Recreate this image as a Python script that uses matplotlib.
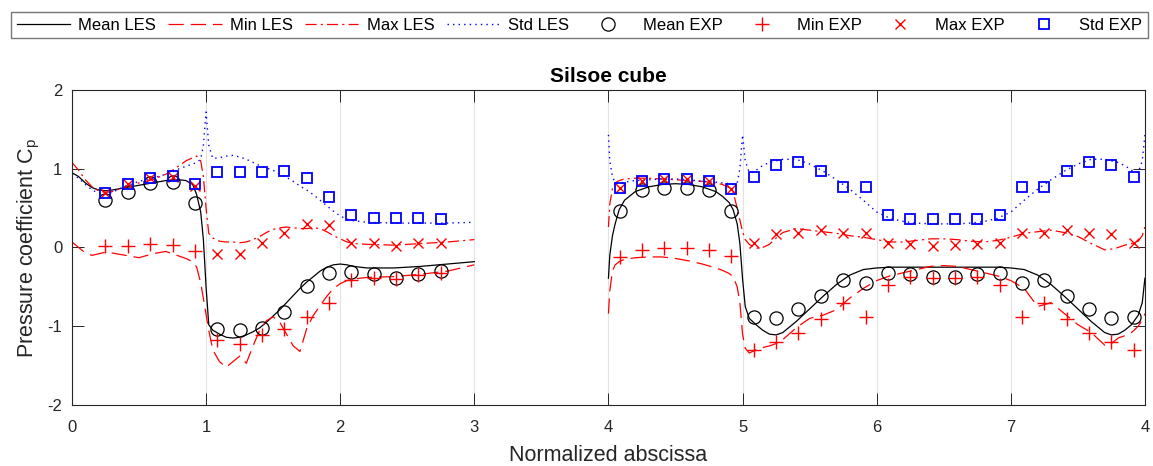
import numpy as np
import matplotlib
matplotlib.use('Agg')
import matplotlib.pyplot as plt

plt.rcParams['font.family'] = ['Liberation Sans', 'DejaVu Sans']
plt.rcParams['mathtext.fontset'] = 'custom'
plt.rcParams['mathtext.rm'] = 'Liberation Sans'
plt.rcParams['lines.scale_dashes'] = False
plt.rcParams['axes.unicode_minus'] = False

# LES profiles, first segment (faces 1-3)
les_x_left = [0.00, 0.05, 0.10, 0.15, 0.20, 0.25, 0.30, 0.40, 0.50, 0.60, 0.70, 0.75,
              0.80, 0.85, 0.90, 0.93, 0.96, 0.98, 1.00, 1.02, 1.05, 1.10, 1.15, 1.20,
              1.25, 1.30, 1.35, 1.40, 1.45, 1.50, 1.55, 1.60, 1.65, 1.70, 1.75, 1.80,
              1.85, 1.90, 1.95, 2.00, 2.05, 2.10, 2.20, 2.40, 2.60, 2.80, 3.00]
mean_les_left = [0.95, 0.90, 0.82, 0.76, 0.73, 0.72, 0.73, 0.76, 0.79, 0.82, 0.85, 0.86,
                 0.86, 0.85, 0.80, 0.67, 0.45, 0.10, -0.50, -0.98, -1.05, -1.10, -1.14, -1.15,
                 -1.14, -1.11, -1.07, -1.02, -0.95, -0.87, -0.79, -0.70, -0.61, -0.52, -0.44, -0.37,
                 -0.30, -0.25, -0.22, -0.21, -0.22, -0.24, -0.26, -0.26, -0.24, -0.21, -0.18]
min_les_left = [0.07, 0.00, -0.07, -0.10, -0.08, -0.06, -0.07, -0.10, -0.13, -0.08, -0.05, -0.08,
                -0.11, -0.14, -0.18, -0.25, -0.45, -0.65, -0.85, -1.05, -1.30, -1.45, -1.52, -1.45,
                -1.38, -1.47, -1.25, -1.05, -0.93, -0.88, -0.95, -1.10, -1.25, -1.32, -1.03, -0.86,
                -0.74, -0.62, -0.52, -0.46, -0.42, -0.40, -0.38, -0.37, -0.34, -0.30, -0.22]
max_les_left = [1.08, 0.98, 0.86, 0.77, 0.72, 0.70, 0.71, 0.77, 0.82, 0.86, 0.93, 0.98,
                1.04, 1.10, 1.14, 1.16, 1.10, 0.90, 0.50, 0.18, 0.12, 0.08, 0.07, 0.07,
                0.06, 0.07, 0.10, 0.14, 0.19, 0.23, 0.25, 0.26, 0.25, 0.24, 0.24, 0.25,
                0.24, 0.20, 0.15, 0.11, 0.07, 0.05, 0.04, 0.03, 0.05, 0.07, 0.10]
std_les_left = [0.93, 0.88, 0.80, 0.73, 0.69, 0.68, 0.70, 0.78, 0.84, 0.88, 0.93, 0.96,
                1.00, 1.03, 1.06, 1.08, 1.12, 1.30, 1.72, 1.30, 1.13, 1.14, 1.16, 1.17,
                1.15, 1.12, 1.08, 1.04, 1.01, 0.98, 0.93, 0.89, 0.84, 0.78, 0.73, 0.67,
                0.60, 0.53, 0.46, 0.40, 0.36, 0.34, 0.32, 0.31, 0.31, 0.31, 0.32]

# LES profiles, second segment (faces 4-7)
les_x_right = [4.00, 4.01, 4.03, 4.05, 4.08, 4.12, 4.20, 4.30, 4.40, 4.50, 4.60, 4.70,
               4.80, 4.85, 4.90, 4.93, 4.96, 4.98, 5.00, 5.02, 5.05, 5.10, 5.15, 5.20,
               5.25, 5.30, 5.40, 5.50, 5.60, 5.70, 5.80, 5.90, 6.00, 6.10, 6.20, 6.30,
               6.40, 6.50, 6.60, 6.70, 6.80, 6.90, 7.00, 7.10, 7.20, 7.30, 7.40, 7.50,
               7.60, 7.70, 7.75, 7.80, 7.85, 7.90, 7.95, 7.98, 8.00]
mean_les_right = [-0.39, -0.10, 0.15, 0.30, 0.48, 0.60, 0.71, 0.77, 0.80, 0.81, 0.80, 0.77,
                  0.71, 0.65, 0.57, 0.48, 0.30, 0.05, -0.40, -0.75, -0.90, -0.98, -1.05, -1.10,
                  -1.11, -1.08, -0.94, -0.78, -0.62, -0.47, -0.35, -0.28, -0.26, -0.25, -0.25, -0.25,
                  -0.25, -0.25, -0.25, -0.25, -0.25, -0.25, -0.26, -0.28, -0.35, -0.47, -0.62, -0.78,
                  -0.94, -1.08, -1.11, -1.10, -1.05, -0.98, -0.86, -0.70, -0.39]
min_les_right = [-0.84, -0.55, -0.30, -0.22, -0.18, -0.15, -0.13, -0.12, -0.12, -0.14, -0.17, -0.21,
                 -0.26, -0.29, -0.33, -0.37, -0.50, -0.70, -1.10, -1.28, -1.34, -1.30, -1.27, -1.25,
                 -1.22, -1.17, -1.02, -0.90, -0.86, -0.79, -0.64, -0.52, -0.42, -0.36, -0.32, -0.28,
                 -0.24, -0.23, -0.24, -0.28, -0.32, -0.36, -0.42, -0.52, -0.75, -0.70, -0.84, -0.98,
                 -1.08, -1.24, -1.22, -1.15, -1.12, -1.08, -1.00, -0.92, -0.84]
max_les_right = [0.26, 0.55, 0.75, 0.82, 0.85, 0.87, 0.88, 0.88, 0.87, 0.86, 0.85, 0.84,
                 0.82, 0.80, 0.76, 0.70, 0.50, 0.35, 0.20, 0.10, 0.04, -0.01, 0.00, 0.04,
                 0.12, 0.19, 0.24, 0.22, 0.20, 0.18, 0.15, 0.13, 0.10, 0.07, 0.07, 0.09,
                 0.11, 0.11, 0.10, 0.08, 0.07, 0.09, 0.13, 0.18, 0.20, 0.22, 0.19, 0.14,
                 0.05, -0.03, -0.02, 0.00, 0.03, 0.05, 0.08, 0.15, 0.26]
std_les_right = [1.43, 1.10, 0.90, 0.82, 0.81, 0.83, 0.85, 0.86, 0.87, 0.87, 0.86, 0.84,
                 0.83, 0.82, 0.81, 0.80, 0.82, 1.00, 1.43, 1.10, 0.95, 0.98, 1.04, 1.08,
                 1.10, 1.12, 1.12, 1.06, 0.97, 0.86, 0.74, 0.60, 0.45, 0.37, 0.33, 0.31,
                 0.30, 0.30, 0.30, 0.31, 0.33, 0.37, 0.45, 0.60, 0.74, 0.86, 0.97, 1.06,
                 1.12, 1.12, 1.10, 1.08, 1.04, 0.98, 0.95, 1.10, 1.43]

# wind tunnel taps
exp_x = [0.250, 0.417, 0.583, 0.750, 0.917,
         1.083, 1.250, 1.417, 1.583, 1.750, 1.917,
         2.083, 2.250, 2.417, 2.583, 2.750,
         4.083, 4.250, 4.417, 4.583, 4.750, 4.917,
         5.083, 5.250, 5.417, 5.583, 5.750, 5.917,
         6.083, 6.250, 6.417, 6.583, 6.750, 6.917,
         7.083, 7.250, 7.417, 7.583, 7.750, 7.917]
mean_exp = [0.60, 0.70, 0.815, 0.835, 0.56,
            -1.03, -1.05, -1.02, -0.815, -0.485, -0.32,
            -0.315, -0.34, -0.39, -0.34, -0.295,
            0.467, 0.73, 0.752, 0.752, 0.73, 0.467,
            -0.878, -0.90, -0.785, -0.616, -0.413, -0.447,
            -0.328, -0.336, -0.37, -0.37, -0.336, -0.328,
            -0.447, -0.413, -0.616, -0.785, -0.90, -0.878]
min_exp = [0.023, 0.023, 0.04, 0.03, -0.05,
           -1.175, -1.23, -1.11, -1.03, -0.88, -0.71,
           -0.41, -0.39, -0.40, -0.35, -0.33,
           -0.117, -0.032, -0.01, -0.01, -0.032, -0.108,
           -1.30, -1.196, -1.09, -0.912, -0.709, -0.878,
           -0.476, -0.37, -0.39, -0.39, -0.37, -0.476,
           -0.878, -0.709, -0.912, -1.09, -1.196, -1.30]
max_exp = [0.696, 0.80, 0.88, 0.90, 0.78,
           -0.087, -0.087, 0.053, 0.19, 0.30, 0.28,
           0.053, 0.053, 0.02, 0.053, 0.053,
           0.75, 0.85, 0.87, 0.87, 0.85, 0.74,
           0.053, 0.167, 0.188, 0.222, 0.188, 0.18,
           0.053, 0.04, 0.023, 0.03, 0.044, 0.053,
           0.18, 0.18, 0.22, 0.18, 0.167, 0.053]
std_exp = [0.696, 0.80, 0.88, 0.91, 0.80,
           0.955, 0.955, 0.955, 0.975, 0.88, 0.637,
           0.41, 0.375, 0.375, 0.375, 0.358,
           0.752, 0.844, 0.866, 0.866, 0.844, 0.743,
           0.90, 1.048, 1.09, 0.975, 0.772, 0.772,
           0.413, 0.358, 0.358, 0.358, 0.358, 0.413,
           0.772, 0.772, 0.975, 1.09, 1.048, 0.90]

xtick_labels = ['0', '1', '2', '3', '4', '5', '6', '7', '4']

AXCOL = '#262626'

fig = plt.figure(figsize=(11.53, 4.66), dpi=100)
ax = fig.add_axes([0.0624, 0.1309, 0.9306, 0.676])

dash = dict(color='red', lw=0.9, dashes=(11, 5))
dashdot = dict(color='red', lw=0.9, dashes=(8, 3, 1.5, 3))
dotted = dict(color='blue', lw=1.0, dashes=(1, 3))

h = []
for xs, mean, lo, hi, sd in [(les_x_left, mean_les_left, min_les_left, max_les_left, std_les_left),
                             (les_x_right, mean_les_right, min_les_right, max_les_right, std_les_right)]:
    l1, = ax.plot(xs, mean, color='black', lw=0.9, label='Mean LES')
    l2, = ax.plot(xs, lo, label='Min LES', **dash)
    l3, = ax.plot(xs, hi, label='Max LES', **dashdot)
    l4, = ax.plot(xs, sd, label='Std LES', **dotted)
h += [l1, l2, l3, l4]

m1, = ax.plot(exp_x, mean_exp, 'o', mfc='none', mec='black', ms=9.5, mew=0.9, label='Mean EXP')
m2, = ax.plot(exp_x, min_exp, '+', color='red', ms=10, mew=1.0, label='Min EXP')
m3, = ax.plot(exp_x, max_exp, 'x', color='red', ms=7.5, mew=1.0, label='Max EXP')
m4, = ax.plot(exp_x, std_exp, 's', mfc='none', mec='blue', ms=7, mew=1.3, label='Std EXP')
h += [m1, m2, m3, m4]

ax.set_xlim(0, 8)
ax.set_ylim(-2, 2)
ax.set_xticks(range(9))
ax.set_xticklabels(xtick_labels)
ax.set_yticks([-2, -1, 0, 1, 2])
ax.xaxis.grid(True, color='#e3e3e3', lw=0.8)
ax.set_axisbelow(True)

for s in ax.spines.values():
    s.set_color(AXCOL)
    s.set_linewidth(0.8)
ax.tick_params(direction='in', length=8.5, width=0.7, color=AXCOL, labelcolor=AXCOL,
               labelsize=12, top=True, right=True)
ax.tick_params(axis='x', pad=11)
ax.tick_params(axis='y', pad=7)

ax.set_title('Silsoe cube', fontsize=15, fontweight='bold', pad=6)
ax.set_xlabel('Normalized abscissa', fontsize=15.5, color=AXCOL, labelpad=7)
ax.set_ylabel(r'Pressure coefficient C$_\mathregular{p}$', fontsize=15.5, color=AXCOL, labelpad=4)

leg = fig.legend(handles=h, loc='center', ncol=8, mode='expand',
                 bbox_to_anchor=(0.0095, 0.912, 0.986, 0.0687),
                 fancybox=False, edgecolor='#555555', fontsize=12,
                 handlelength=3.2, handletextpad=0.5, borderpad=0.35, borderaxespad=0,
                 numpoints=1)
leg.get_frame().set_linewidth(1.0)

fig.savefig('out.png', dpi=100)
